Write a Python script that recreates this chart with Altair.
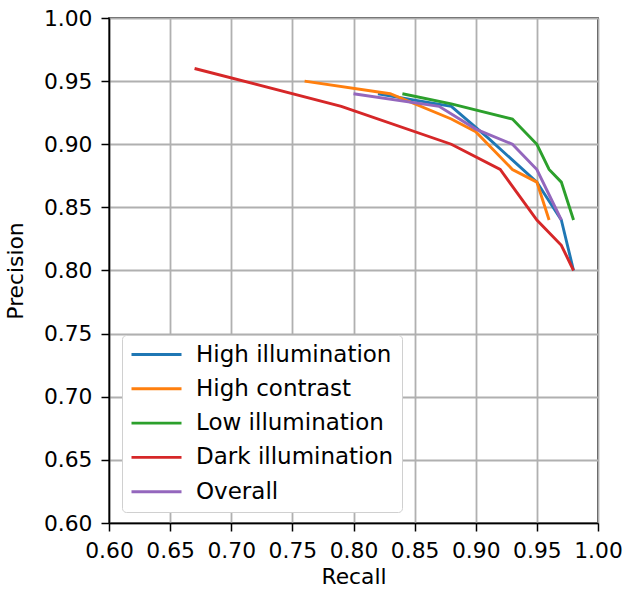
import altair as alt
import pandas as pd

series_names = ["High illumination", "High contrast", "Low illumination", "Dark illumination", "Overall"]
colors = ["#1f77b4", "#ff7f0e", "#2ca02c", "#d62728", "#9467bd"]

high_illum_recall = [0.82, 0.85, 0.88, 0.91, 0.95, 0.97, 0.98]
high_illum_precision = [0.94, 0.935, 0.93, 0.905, 0.87, 0.84, 0.80]

high_contrast_recall = [0.76, 0.83, 0.88, 0.90, 0.93, 0.95, 0.96]
high_contrast_precision = [0.95, 0.94, 0.92, 0.91, 0.88, 0.87, 0.84]

low_illum_recall = [0.84, 0.88, 0.93, 0.95, 0.96, 0.97, 0.98]
low_illum_precision = [0.94, 0.932, 0.92, 0.90, 0.88, 0.87, 0.84]

dark_illum_recall = [0.67, 0.79, 0.88, 0.92, 0.95, 0.97, 0.98]
dark_illum_precision = [0.96, 0.93, 0.90, 0.88, 0.84, 0.82, 0.80]

overall_recall = [0.80, 0.87, 0.90, 0.93, 0.95, 0.96, 0.97]
overall_precision = [0.94, 0.93, 0.912, 0.90, 0.88, 0.86, 0.84]

ticks = [0.60, 0.65, 0.70, 0.75, 0.80, 0.85, 0.90, 0.95, 1.00]

rows = []
for name, rs, ps in zip(
    series_names,
    [high_illum_recall, high_contrast_recall, low_illum_recall, dark_illum_recall, overall_recall],
    [high_illum_precision, high_contrast_precision, low_illum_precision, dark_illum_precision, overall_precision],
):
    for i, (r, p) in enumerate(zip(rs, ps)):
        rows.append({"series": name, "Recall": r, "Precision": p, "order": i})
df = pd.DataFrame(rows)

FONT = "DejaVu Sans"
FS = 21.8

chart = (
    alt.Chart(df)
    .mark_line(strokeWidth=2.9)
    .encode(
        x=alt.X(
            "Recall:Q",
            scale=alt.Scale(domain=[0.6, 1.0], nice=False, zero=False),
            axis=alt.Axis(values=ticks, format=".2f", title="Recall", titlePadding=5,
                          labelOverlap=False, labelFlush=False),
        ),
        y=alt.Y(
            "Precision:Q",
            scale=alt.Scale(domain=[0.6, 1.0], nice=False, zero=False),
            axis=alt.Axis(values=ticks, format=".2f", title="Precision", titlePadding=16,
                          labelOverlap=False),
        ),
        color=alt.Color(
            "series:N",
            scale=alt.Scale(domain=series_names, range=colors),
            legend=alt.Legend(
                title=None,
                orient="none",
                legendX=13,
                legendY=317,
                symbolType="M-1,0H4",
                symbolSize=400,
                symbolStrokeWidth=2.9,
                labelFontSize=23,
                labelFont=FONT,
                labelColor="black",
                labelLimit=400,
                rowPadding=10.3,
                padding=8,
                strokeColor="#d0d0d0",
                fillColor="white",
                cornerRadius=4,
                labelOffset=43,
            ),
        ),
        order="order:Q",
    )
    .properties(
        width=489,
        height=505,
        padding={"left": 109, "top": 18, "right": 42, "bottom": 66},
        autosize=alt.AutoSizeParams(type="none"),
    )
    .configure_axis(
        labelFont=FONT,
        titleFont=FONT,
        labelFontSize=FS,
        titleFontSize=FS,
        titleFontWeight="normal",
        labelColor="black",
        titleColor="black",
        domainColor="black",
        domainWidth=1.5,
        tickColor="black",
        tickWidth=1.5,
        tickSize=8,
        labelPadding=9,
        gridColor="#b0b0b0",
        gridWidth=1.8,
        gridOpacity=1,
    )
    .configure_view(stroke="black", strokeWidth=1.5)
)

chart.save("out.html", embed_options={"renderer": "svg", "actions": False})
